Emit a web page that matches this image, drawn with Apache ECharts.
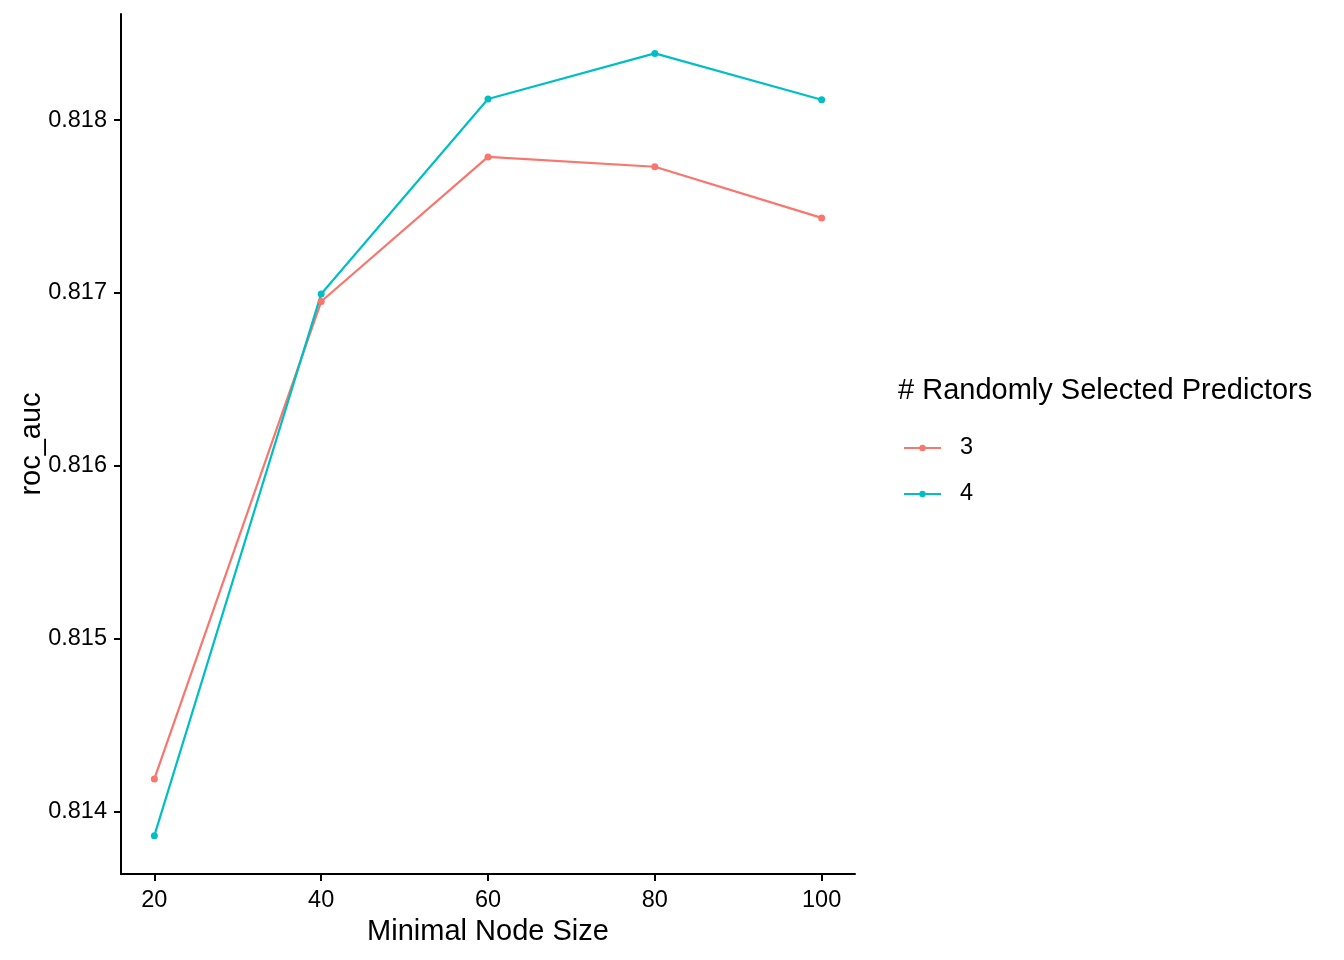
<!DOCTYPE html>
<html>
<head>
<meta charset="utf-8">
<script src="https://cdn.jsdelivr.net/npm/echarts@6/dist/echarts.min.js"></script>
<style>html,body{margin:0;padding:0;background:#fff;}#c{width:1344px;height:960px;}</style>
</head>
<body>
<div id="c"></div>
<script>
const nodeSizes = [20, 40, 60, 80, 100];
const seriesNames = ['3', '4'];
const auc3 = [0.814187, 0.816950, 0.817787, 0.817730, 0.817434];
const auc4 = [0.813859, 0.816994, 0.818122, 0.818386, 0.818118];
const xTicks = [20, 40, 60, 80, 100];
const yTicks = [0.814, 0.815, 0.816, 0.817, 0.818];
const colors = ['#F8766D', '#00BFC4'];

const font = 'Liberation Sans, Arial, sans-serif';
const chart = echarts.init(document.getElementById('c'), null, {renderer: 'canvas'});

function mk(name, vals, color) {
  return {
    name: name,
    type: 'line',
    data: nodeSizes.map((x, i) => [x, vals[i]]),
    symbol: 'circle',
    symbolSize: 7,
    showSymbol: true,
    itemStyle: {color: color},
    lineStyle: {color: color, width: 2.2},
    emphasis: {disabled: true},
    animation: false
  };
}

chart.setOption({
  backgroundColor: '#fff',
  animation: false,
  grid: {left: 121, right: 489, top: 14, bottom: 86, containLabel: false},
  title: {
    text: '# Randomly Selected Predictors',
    left: 893, top: 371,
    textStyle: {fontFamily: font, fontSize: 29, fontWeight: 'normal', color: '#000'}
  },
  legend: {
    orient: 'vertical',
    left: 898, top: 431,
    itemWidth: 37, itemHeight: 8,
    itemGap: 22,
    data: seriesNames,
    textStyle: {fontFamily: font, fontSize: 23.5, color: '#000', padding: [0, 0, 0, 14], lineHeight: 23}
  },
  xAxis: {
    type: 'value',
    min: 16, max: 104,
    name: 'Minimal Node Size',
    nameLocation: 'middle',
    nameGap: 43,
    nameMoveOverlap: false,
    nameTextStyle: {fontFamily: font, fontSize: 29, color: '#000'},
    axisLine: {show: true, onZero: false, lineStyle: {color: '#000', width: 2}},
    axisTick: {show: true, length: 7, lineStyle: {color: '#000', width: 2}, customValues: xTicks},
    axisLabel: {fontFamily: font, fontSize: 23.5, color: '#000', margin: 15, customValues: xTicks},
    splitLine: {show: false}
  },
  yAxis: {
    type: 'value',
    min: 0.813637, max: 0.818614,
    name: 'roc_auc',
    nameLocation: 'middle',
    nameGap: 75,
    nameMoveOverlap: false,
    nameRotate: 90,
    nameTextStyle: {fontFamily: font, fontSize: 29, color: '#000'},
    axisLine: {show: true, onZero: false, lineStyle: {color: '#000', width: 2}},
    axisTick: {show: true, length: 7, lineStyle: {color: '#000', width: 2}, customValues: yTicks},
    axisLabel: {fontFamily: font, fontSize: 23.5, color: '#000', margin: 14, customValues: yTicks,
      formatter: v => v.toFixed(3)},
    splitLine: {show: false}
  },
  series: [mk(seriesNames[0], auc3, colors[0]), mk(seriesNames[1], auc4, colors[1])]
});
</script>
</body>
</html>
